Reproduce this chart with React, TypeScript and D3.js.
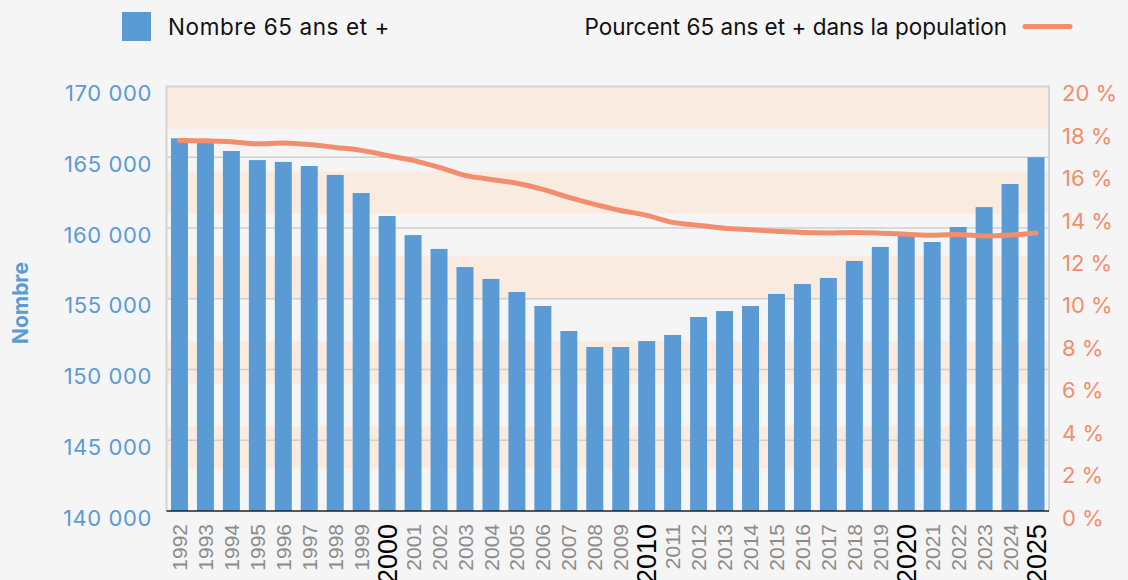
import React from "react";
import * as d3 from "d3";

const years = [1992,1993,1994,1995,1996,1997,1998,1999,2000,2001,2002,2003,2004,2005,2006,2007,2008,2009,2010,2011,2012,2013,2014,2015,2016,2017,2018,2019,2020,2021,2022,2023,2024,2025];
const counts = [166340,166150,165440,164800,164670,164380,163750,162470,160850,159500,158520,157240,156400,155480,154490,152720,151590,151590,152010,152440,153710,154130,154490,155340,156040,156470,157670,158660,159500,159010,160070,161480,163110,165000];
const percents = [17.46,17.44,17.4,17.3,17.34,17.27,17.13,16.99,16.75,16.52,16.19,15.81,15.62,15.44,15.15,14.78,14.45,14.16,13.93,13.6,13.46,13.32,13.25,13.18,13.12,13.1,13.12,13.09,13.04,12.99,13.03,12.96,13.0,13.1];
const leftTicks = [140000,145000,150000,155000,160000,165000,170000];
const rightTicks = [0,2,4,6,8,10,12,14,16,18,20];
const bandRanges = [[18,20],[14,16],[10,12],[6,8],[2,4]];
const highlightYears = [2000,2010,2020,2025];

const BLUE = "#5B9BD5";
const SALMON = "#F28E6D";
const BAND = "#FAEBE1";
const FONT = "Inter, 'Open Sans', sans-serif";
const YEAR_FONT = "'Liberation Sans Narrow', 'Liberation Sans', Arial, sans-serif";

export default function App() {
  const W = 1128, H = 580;
  const x0 = 166.5, x1 = 1049, yTop = 86.5, yBot = 511;
  const x = d3.scaleBand<number>().domain(years).range([x0, x1]).paddingInner(0.346).paddingOuter(0.173);
  const yL = d3.scaleLinear().domain([140000, 170000]).range([yBot, yTop]);
  const yR = d3.scaleLinear().domain([0, 20]).range([yBot, yTop]);
  const fmt = (v: number) => d3.format(",")(v).replace(/,/g, "\u00A0");
  const line = d3.line<number>()
    .x((_, i) => (x(years[i]) as number) + x.bandwidth() / 2)
    .y((d) => yR(d))
    .curve(d3.curveCatmullRom.alpha(0.5));

  return (
    <svg width={W} height={H} style={{ position: "absolute", left: 0, top: 0, background: "#F5F5F5" }} fontFamily={FONT}>
      <rect x={0} y={0} width={W} height={H} fill="#F5F5F5" />
      {/* legend */}
      <rect x={122} y={12} width={29} height={29} fill={BLUE} />
      <text x={168} y={35} fontSize={22.5} fill="#111" letterSpacing={0.6}>Nombre 65 ans et +</text>
      <text x={1007} y={35} fontSize={22.5} fill="#111" textAnchor="end">Pourcent 65 ans et + dans la population</text>
      <line x1={1025} x2={1070} y1={26.5} y2={26.5} stroke={SALMON} strokeWidth={5} strokeLinecap="round" />

      {/* bands */}
      {bandRanges.map(([a, b]) => (
        <rect key={a} x={x0} width={x1 - x0} y={yR(b)} height={yR(a) - yR(b)} fill={BAND} />
      ))}
      {/* grid */}
      {leftTicks.slice(1, -1).map((t) => (
        <line key={t} x1={x0} x2={x1} y1={yL(t)} y2={yL(t)} stroke="#CFCFCF" strokeWidth={1.5} />
      ))}
      {/* border */}
      <path d={`M${x0},${yBot} V${yTop} H${x1} V${yBot}`} fill="none" stroke="#D4D4D4" strokeWidth={2} />

      {/* bars */}
      {years.map((yr, i) => (
        <rect key={yr} x={x(yr)} width={x.bandwidth()} y={yL(counts[i])} height={yBot - yL(counts[i])} fill={BLUE} />
      ))}
      <line x1={x0} x2={x1} y1={yBot} y2={yBot} stroke="#222" strokeWidth={1.5} />

      {/* line */}
      <path d={line(percents) || ""} fill="none" stroke={SALMON} strokeWidth={5} strokeLinecap="round" strokeLinejoin="round" />

      {/* left axis */}
      {leftTicks.map((t) => (
        <text key={t} x={152} y={yL(t) + 7} dy="0.35em" textAnchor="end" fontSize={22} fill={BLUE} letterSpacing={0.6}>{fmt(t)}</text>
      ))}
      <text transform={`translate(28,303) rotate(-90)`} textAnchor="middle" fontSize={21} fontWeight={700} fill={BLUE}>Nombre</text>

      {/* right axis */}
      {rightTicks.map((t) => (
        <text key={t} x={1062} y={yR(t) + 7} dy="0.35em" fontSize={22} fill={SALMON}>{`${t}\u00A0%`}</text>
      ))}

      {/* x axis labels */}
      {years.map((yr) => {
        const hl = highlightYears.includes(yr);
        const cx = (x(yr) as number) + x.bandwidth() / 2;
        return (
          <text key={yr} transform={`translate(${cx},524) rotate(-90)`} textAnchor="end" dy="0.36em"
            fontSize={hl ? 27 : 21} fill={hl ? "#000" : "#8C8C8C"} fontFamily={YEAR_FONT}>{yr}</text>
        );
      })}
    </svg>
  );
}
